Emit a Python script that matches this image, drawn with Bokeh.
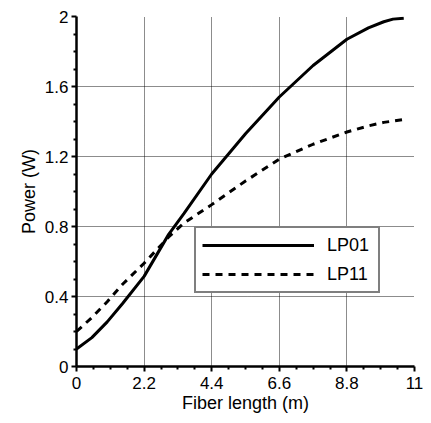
from bokeh.plotting import figure
from bokeh.models import Range1d, FixedTicker, Legend, LegendItem
from bokeh.embed import file_html
from bokeh.resources import INLINE

# ---- data ----
lp01_x = [0, 0.5, 1.0, 1.5, 2.2, 3.0, 3.5, 4.4, 5.5, 6.6, 7.7, 8.8, 9.5, 10.0, 10.3, 10.65]
lp01_y = [0.10, 0.165, 0.255, 0.36, 0.515, 0.755, 0.875, 1.10, 1.33, 1.54, 1.72, 1.87, 1.935, 1.97, 1.985, 1.99]
lp11_x = [0, 0.5, 1.0, 1.5, 2.2, 3.0, 3.5, 4.4, 5.5, 6.6, 7.7, 8.8, 9.5, 10.0, 10.6]
lp11_y = [0.20, 0.28, 0.37, 0.47, 0.59, 0.74, 0.82, 0.925, 1.06, 1.185, 1.27, 1.34, 1.375, 1.395, 1.41]

x_ticks = [0, 2.2, 4.4, 6.6, 8.8, 11]
x_tick_labels = ["0", "2.2", "4.4", "6.6", "8.8", "11"]
x_minor = [0.55, 1.1, 1.65, 2.75, 3.3, 3.85, 4.95, 5.5, 6.05, 7.15, 7.7, 8.25, 9.35, 9.9, 10.45]
y_ticks = [0, 0.4, 0.8, 1.2, 1.6, 2.0]
y_tick_labels = ["0", "0.4", "0.8", "1.2", "1.6", "2"]
y_minor = [0.1, 0.2, 0.3, 0.5, 0.6, 0.7, 0.9, 1.0, 1.1, 1.3, 1.4, 1.5, 1.7, 1.8, 1.9]

series_names = ["LP01", "LP11"]
x_label = "Fiber length (m)"
y_label = "Power (W)"

FONT = "Liberation Sans"

p = figure(width=423, height=415, output_backend="svg", toolbar_location=None,
           x_range=Range1d(0, 11), y_range=Range1d(0, 2),
           min_border_left=76, min_border_top=16, min_border_right=9, min_border_bottom=48)
p.outline_line_color = None
p.background_fill_color = "white"
p.border_fill_color = "white"

for ax, ticks, minor, labels in [(p.xaxis[0], x_ticks, x_minor, x_tick_labels),
                                 (p.yaxis[0], y_ticks, y_minor, y_tick_labels)]:
    ax.ticker = FixedTicker(ticks=ticks, minor_ticks=minor)
    ax.major_label_overrides = {t: l for t, l in zip(ticks, labels)}
    ax.axis_line_color = "black"
    ax.axis_line_width = 2.5
    ax.major_tick_line_color = "black"
    ax.major_tick_line_width = 2
    ax.minor_tick_line_color = "black"
    ax.minor_tick_line_width = 2
    ax.major_tick_out = 5
    ax.major_tick_in = 0
    ax.minor_tick_out = 3
    ax.minor_tick_in = 0
    ax.major_label_text_font = FONT
    ax.major_label_text_font_size = "17px"
    ax.major_label_text_color = "black"
    ax.axis_label_text_font = FONT
    ax.axis_label_text_font_size = "18px"
    ax.axis_label_text_font_style = "normal"
    ax.axis_label_text_color = "black"

p.xaxis.axis_label = x_label
p.xaxis.major_label_standoff = 5
p.xaxis.axis_label_standoff = 1
p.yaxis.major_label_standoff = 3
p.yaxis.axis_label = y_label
p.yaxis.axis_label_standoff = 3

for g in (p.xgrid[0], p.ygrid[0]):
    g.grid_line_color = "black"
    g.grid_line_width = 1
    g.grid_line_dash = "1 1"
    g.grid_line_alpha = 0.9

r1 = p.line(lp01_x, lp01_y, line_color="black", line_width=3)
r2 = p.line(lp11_x, lp11_y, line_color="black", line_width=3, line_dash="7 6")

legend = Legend(items=[LegendItem(label=series_names[0], renderers=[r1]),
                       LegendItem(label=series_names[1], renderers=[r2])],
                location=(118, 73),
                border_line_color="black", border_line_width=2,
                background_fill_color="white", background_fill_alpha=1,
                padding=6, spacing=7, glyph_width=112, glyph_height=22,
                label_height=22, label_width=45, label_standoff=13, margin=0,
                label_text_font=FONT, label_text_font_size="18px",
                label_text_color="black")
p.add_layout(legend, "center")

open("out.html", "w").write(file_html(p, INLINE))
